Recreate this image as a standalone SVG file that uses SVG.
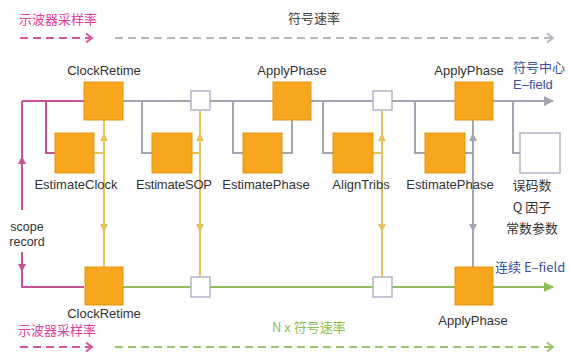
<svg xmlns="http://www.w3.org/2000/svg" width="569" height="352" viewBox="0 0 569 352">
<defs>
<style>
text{font-family:"Liberation Sans",Arial,"Noto Sans CJK SC",sans-serif;font-size:13px;fill:#333}
.cn{font-family:"Noto Sans CJK SC","Liberation Sans",sans-serif}
.sm{font-size:12.5px}
.pinkT{fill:#e0409a}
.blueT{fill:#3a4fa0}
.greenT{fill:#8cc251}
.grayT{fill:#444}
.op{fill:#f8a61e;stroke:#e39312;stroke-width:1}
.wb{fill:#fff;stroke:#b4b4cc;stroke-width:1.5}
.g{fill:none;stroke:#a3a5b3;stroke-width:2}
.p{fill:none;stroke:#c85498;stroke-width:2}
.y{fill:none;stroke:#e8c25a;stroke-width:2}
.gr{fill:none;stroke:#8fc05c;stroke-width:2}
.dp{fill:none;stroke:#d8559e;stroke-width:2;stroke-dasharray:8 5}
.dg{fill:none;stroke:#b8b8c0;stroke-width:2;stroke-dasharray:8 5}
.dgr{fill:none;stroke:#9ac46c;stroke-width:2;stroke-dasharray:8 5}
</style>
<marker id="ag" markerUnits="userSpaceOnUse" markerWidth="12" markerHeight="12" refX="10" refY="6" orient="auto"><path d="M1,1 L11,6 L1,11 Z" fill="#a3a5b3"/></marker>
<marker id="agr" markerUnits="userSpaceOnUse" markerWidth="12" markerHeight="12" refX="10" refY="6" orient="auto"><path d="M1,1 L11,6 L1,11 Z" fill="#8fc05c"/></marker>
<marker id="ay" markerUnits="userSpaceOnUse" markerWidth="10" markerHeight="10" refX="8" refY="5" orient="auto"><path d="M1,1 L9,5 L1,9 Z" fill="#e8c25a"/></marker>
<marker id="ap" markerUnits="userSpaceOnUse" markerWidth="10" markerHeight="10" refX="8" refY="5" orient="auto"><path d="M1,1 L9,5 L1,9 Z" fill="#c85498"/></marker>
<marker id="agv" markerUnits="userSpaceOnUse" markerWidth="10" markerHeight="10" refX="8" refY="5" orient="auto"><path d="M1,1 L9,5 L1,9 Z" fill="#a3a5b3"/></marker>
<marker id="cp" markerUnits="userSpaceOnUse" markerWidth="12" markerHeight="12" refX="9" refY="6" orient="auto"><path d="M3,1.5 L9,6 L3,10.5" fill="none" stroke="#d8559e" stroke-width="2"/></marker>
<marker id="cg" markerUnits="userSpaceOnUse" markerWidth="12" markerHeight="12" refX="9" refY="6" orient="auto"><path d="M3,1.5 L9,6 L3,10.5" fill="none" stroke="#b8b8c0" stroke-width="2"/></marker>
<marker id="cgr" markerUnits="userSpaceOnUse" markerWidth="12" markerHeight="12" refX="9" refY="6" orient="auto"><path d="M3,1.5 L9,6 L3,10.5" fill="none" stroke="#9ac46c" stroke-width="2"/></marker>
</defs>

<g id="connectors">
  <path class="dp" d="M20,38 H92" marker-end="url(#cp)"/>
  <path class="dg" d="M115,38 H553" marker-end="url(#cg)"/>
  <path class="dp" d="M20,347 H92" marker-end="url(#cp)"/>
  <path class="dgr" d="M115,347 H553" marker-end="url(#cgr)"/>
  <path class="p" d="M22,101 H84"/>
  <path class="g" d="M123,101 H553" marker-end="url(#ag)"/>
  <path class="p" d="M22,101 V210"/>
  <path class="p" d="M22,166 V157" marker-end="url(#ap)"/>
  <path class="p" d="M46,101 V153 H55"/>
  <path class="p" d="M22,252 V287 H84"/>
  <path class="p" d="M22,262 V271" marker-end="url(#ap)"/>
  <path class="g" d="M142,101 V153 H152"/>
  <path class="g" d="M233,101 V153 H243"/>
  <path class="g" d="M323,101 V153 H333"/>
  <path class="g" d="M415,101 V153 H425"/>
  <path class="g" d="M513,101 V153 H520"/>
  <path class="y" d="M94,153 H104"/>
  <path class="y" d="M192,153 H200"/>
  <path class="g" d="M282,153 H292 V120"/>
  <path class="y" d="M373,153 H382"/>
  <path class="g" d="M465,153 H473"/>
  <path class="y" d="M104,120 V267"/>
  <path class="y" d="M104,143 V134" marker-end="url(#ay)"/>
  <path class="y" d="M104,222 V231" marker-end="url(#ay)"/>
  <path class="y" d="M200,110 V277"/>
  <path class="y" d="M200,143 V134" marker-end="url(#ay)"/>
  <path class="y" d="M200,222 V231" marker-end="url(#ay)"/>
  <path class="y" d="M382,111 V277"/>
  <path class="y" d="M382,143 V134" marker-end="url(#ay)"/>
  <path class="y" d="M382,222 V231" marker-end="url(#ay)"/>
  <path class="g" d="M473,120 V267"/>
  <path class="g" d="M473,143 V134" marker-end="url(#agv)"/>
  <path class="g" d="M473,222 V231" marker-end="url(#agv)"/>
  <path class="gr" d="M123,287 H553" marker-end="url(#agr)"/>
</g>

<g id="clockretime-top"><rect class="op" x="84" y="82" width="39" height="38"/><text x="104" y="75" text-anchor="middle">ClockRetime</text></g>
<g id="sop-box-top"><rect class="wb" x="191" y="91" width="19" height="19"/></g>
<g id="applyphase-top1"><rect class="op" x="273" y="82" width="38" height="38"/><text x="292" y="75" text-anchor="middle">ApplyPhase</text></g>
<g id="trib-box-top"><rect class="wb" x="373" y="91" width="19" height="19"/></g>
<g id="applyphase-top2"><rect class="op" x="455" y="82" width="38" height="38"/><text x="469" y="75" text-anchor="middle">ApplyPhase</text></g>
<g id="out-top"><text class="cn blueT" x="513" y="72">符号中心</text><text class="blueT" x="513" y="89">E–field</text></g>

<g id="estimateclock"><rect class="op" x="55" y="133" width="39" height="40"/><text x="76" y="189" text-anchor="middle">EstimateClock</text></g>
<g id="estimatesop"><rect class="op" x="152" y="133" width="40" height="40"/><text x="174" y="189" text-anchor="middle" textLength="76">EstimateSOP</text></g>
<g id="estimatephase1"><rect class="op" x="243" y="133" width="39" height="40"/><text x="266" y="189" text-anchor="middle">EstimatePhase</text></g>
<g id="aligntribs"><rect class="op" x="333" y="133" width="40" height="40"/><text x="361" y="189" text-anchor="middle">AlignTribs</text></g>
<g id="estimatephase2"><rect class="op" x="425" y="133" width="40" height="40"/><text x="450" y="189" text-anchor="middle">EstimatePhase</text></g>
<g id="metrics"><rect class="wb" x="520" y="133" width="40" height="40"/>
  <text class="cn" x="532" y="190" text-anchor="middle">误码数</text>
  <text class="cn" x="532" y="212" text-anchor="middle">Q 因子</text>
  <text class="cn" x="532" y="233" text-anchor="middle">常数参数</text></g>

<g id="scope"><text class="sm" x="27" y="231" text-anchor="middle">scope</text><text class="sm" x="27" y="246" text-anchor="middle">record</text></g>

<g id="clockretime-bottom"><rect class="op" x="85" y="267" width="38" height="38"/><text x="104" y="318" text-anchor="middle">ClockRetime</text></g>
<g id="sop-box-bottom"><rect class="wb" x="191" y="277" width="19" height="20"/></g>
<g id="trib-box-bottom"><rect class="wb" x="373" y="277" width="19" height="20"/></g>
<g id="applyphase-bottom"><rect class="op" x="455" y="267" width="38" height="38"/><text x="473" y="325" text-anchor="middle">ApplyPhase</text></g>
<g id="out-bottom"><text class="cn blueT" x="495" y="272">连续 E–field</text></g>

<g id="rate-labels">
  <text class="cn pinkT" x="19" y="24">示波器采样率</text>
  <text class="cn grayT" x="288" y="23">符号速率</text>
  <text class="cn pinkT" x="18" y="335">示波器采样率</text>
  <text class="cn greenT" x="272" y="332">N x 符号速率</text>
</g>
</svg>
